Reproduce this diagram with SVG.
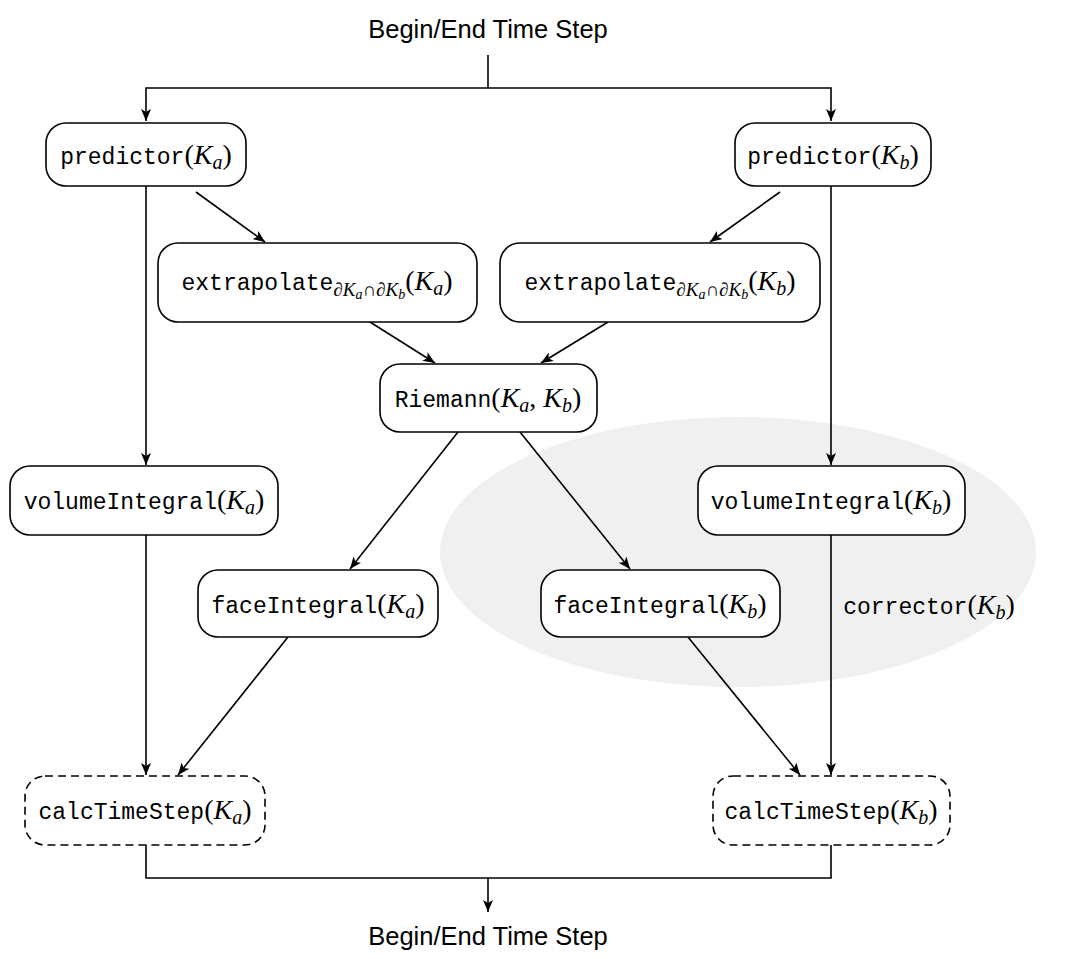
<svg xmlns="http://www.w3.org/2000/svg" width="1066" height="959" viewBox="0 0 1066 959">
<style>
.node{fill:#fff;stroke:#000;stroke-width:1.6}
.dash{stroke-dasharray:8 5}
.edge{fill:none;stroke:#000;stroke-width:1.6}
.lbl{font-family:"Liberation Serif",serif;font-size:28px;text-anchor:middle}
.tt{font-family:"Liberation Mono",monospace;font-size:23px}
.mi{font-style:italic}
.sb{font-style:italic;font-size:20px}
.s1{font-size:19px}
.s2{font-style:italic;font-size:14px}
.sans{font-family:"Liberation Sans",sans-serif;font-size:25.5px;text-anchor:middle}
</style>
<defs>
<marker id="arr" viewBox="0 0 12 10" refX="12" refY="5" markerWidth="12" markerHeight="10" markerUnits="userSpaceOnUse" orient="auto">
<path d="M0,0 L12,5 L0,10 L3,5 Z" fill="#000"/>
</marker>
</defs>
<ellipse cx="738" cy="552" rx="298" ry="135" fill="#f0f0f0"/>
<text class="sans" x="488" y="38">Begin/End Time Step</text>
<text class="sans" x="488" y="945">Begin/End Time Step</text>
<g id="connectors">
<path class="edge" d="M488,55 V88"/>
<path class="edge" d="M488,88 H146 V121" marker-end="url(#arr)"/>
<path class="edge" d="M488,88 H831 V121" marker-end="url(#arr)"/>
<path class="edge" d="M146,186 V465" marker-end="url(#arr)"/>
<path class="edge" d="M196,192 L265,242" marker-end="url(#arr)"/>
<path class="edge" d="M780,192 L710,242" marker-end="url(#arr)"/>
<path class="edge" d="M831,186 V465" marker-end="url(#arr)"/>
<path class="edge" d="M370,322 L435,363" marker-end="url(#arr)"/>
<path class="edge" d="M608,322 L541,363" marker-end="url(#arr)"/>
<path class="edge" d="M458,432 L350,569" marker-end="url(#arr)"/>
<path class="edge" d="M520,432 L630,569" marker-end="url(#arr)"/>
<path class="edge" d="M146,535 V775" marker-end="url(#arr)"/>
<path class="edge" d="M288,637 L178,775" marker-end="url(#arr)"/>
<path class="edge" d="M688,637 L800,775" marker-end="url(#arr)"/>
<path class="edge" d="M831,535 V775" marker-end="url(#arr)"/>
<path class="edge" d="M146,845 V878 H831 V845"/>
<path class="edge" d="M488,878 V912" marker-end="url(#arr)"/>
<text class="lbl" x="929" y="614"><tspan class="tt">corrector</tspan>(<tspan class="mi">K</tspan><tspan class="sb" dy="5">b</tspan><tspan dy="-5">)</tspan></text>
</g>
<g id="predictorA">
<rect class="node" x="46" y="123" width="200" height="63" rx="20"/>
<text class="lbl" x="146" y="164"><tspan class="tt">predictor</tspan>(<tspan class="mi">K</tspan><tspan class="sb" dy="5">a</tspan><tspan dy="-5">)</tspan></text>
</g>
<g id="predictorB">
<rect class="node" x="735" y="123" width="196" height="63" rx="20"/>
<text class="lbl" x="833" y="164"><tspan class="tt">predictor</tspan>(<tspan class="mi">K</tspan><tspan class="sb" dy="5">b</tspan><tspan dy="-5">)</tspan></text>
</g>
<g id="extrapolateA">
<rect class="node" x="158" y="243" width="319" height="79" rx="20"/>
<text class="lbl" x="317" y="290"><tspan class="tt">extrapolate</tspan><tspan class="s1" dy="6">∂</tspan><tspan class="s1 mi">K</tspan><tspan class="s2" dy="3">a</tspan><tspan class="s1" dy="-3">∩∂</tspan><tspan class="s1 mi">K</tspan><tspan class="s2" dy="3">b</tspan><tspan dy="-9">(</tspan><tspan class="mi">K</tspan><tspan class="sb" dy="5">a</tspan><tspan dy="-5">)</tspan></text>
</g>
<g id="extrapolateB">
<rect class="node" x="500" y="243" width="320" height="79" rx="20"/>
<text class="lbl" x="660" y="290"><tspan class="tt">extrapolate</tspan><tspan class="s1" dy="6">∂</tspan><tspan class="s1 mi">K</tspan><tspan class="s2" dy="3">a</tspan><tspan class="s1" dy="-3">∩∂</tspan><tspan class="s1 mi">K</tspan><tspan class="s2" dy="3">b</tspan><tspan dy="-9">(</tspan><tspan class="mi">K</tspan><tspan class="sb" dy="5">b</tspan><tspan dy="-5">)</tspan></text>
</g>
<g id="riemann">
<rect class="node" x="380" y="364" width="217" height="68" rx="20"/>
<text class="lbl" x="488" y="407"><tspan class="tt">Riemann</tspan>(<tspan class="mi">K</tspan><tspan class="sb" dy="5">a</tspan><tspan dy="-5">, </tspan><tspan class="mi">K</tspan><tspan class="sb" dy="5">b</tspan><tspan dy="-5">)</tspan></text>
</g>
<g id="volumeIntegralA">
<rect class="node" x="10" y="466" width="268" height="69" rx="20"/>
<text class="lbl" x="144" y="509"><tspan class="tt">volumeIntegral</tspan>(<tspan class="mi">K</tspan><tspan class="sb" dy="5">a</tspan><tspan dy="-5">)</tspan></text>
</g>
<g id="volumeIntegralB">
<rect class="node" x="698" y="466" width="267" height="69" rx="20"/>
<text class="lbl" x="831" y="509"><tspan class="tt">volumeIntegral</tspan>(<tspan class="mi">K</tspan><tspan class="sb" dy="5">b</tspan><tspan dy="-5">)</tspan></text>
</g>
<g id="faceIntegralA">
<rect class="node" x="198" y="570" width="240" height="67" rx="20"/>
<text class="lbl" x="318" y="613"><tspan class="tt">faceIntegral</tspan>(<tspan class="mi">K</tspan><tspan class="sb" dy="5">a</tspan><tspan dy="-5">)</tspan></text>
</g>
<g id="faceIntegralB">
<rect class="node" x="541" y="570" width="239" height="67" rx="20"/>
<text class="lbl" x="660" y="613"><tspan class="tt">faceIntegral</tspan>(<tspan class="mi">K</tspan><tspan class="sb" dy="5">b</tspan><tspan dy="-5">)</tspan></text>
</g>
<g id="calcTimeStepA">
<rect class="node dash" x="25" y="776" width="240" height="69" rx="20"/>
<text class="lbl" x="145" y="819"><tspan class="tt">calcTimeStep</tspan>(<tspan class="mi">K</tspan><tspan class="sb" dy="5">a</tspan><tspan dy="-5">)</tspan></text>
</g>
<g id="calcTimeStepB">
<rect class="node dash" x="713" y="776" width="237" height="69" rx="20"/>
<text class="lbl" x="831" y="819"><tspan class="tt">calcTimeStep</tspan>(<tspan class="mi">K</tspan><tspan class="sb" dy="5">b</tspan><tspan dy="-5">)</tspan></text>
</g>
</svg>
